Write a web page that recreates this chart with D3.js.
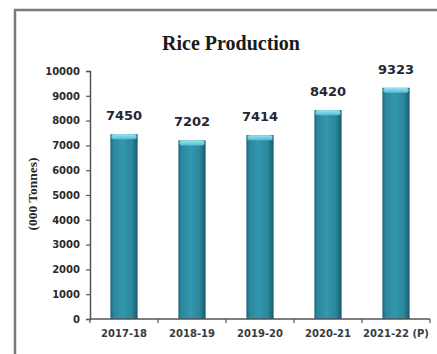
<!DOCTYPE html>
<html>
<head>
<meta charset="utf-8">
<script src="https://cdn.jsdelivr.net/npm/d3@7"></script>
<style>
  body { margin: 0; background: #fff; }
  svg { display: block; }
</style>
</head>
<body>
<div class="canvas"></div>
<script>
// chart data
const years = ['2017-18', '2018-19', '2019-20', '2020-21', '2021-22 (P)'];
const production = [7450, 7202, 7414, 8420, 9323];
const yTicks = [0, 1000, 2000, 3000, 4000, 5000, 6000, 7000, 8000, 9000, 10000];

const width = 437;
const height = 354;
const margin = {top: 71, right: 7, bottom: 35, left: 90};
const graphWidth = width - margin.left - margin.right;
const graphHeight = height - margin.top - margin.bottom;

const svg = d3.select('.canvas')
  .append('svg')
    .attr('width', width)
    .attr('height', height);

// bar gradients (cylinder look)
const defs = svg.append('defs');
const body = defs.append('linearGradient').attr('id', 'barBody')
  .attr('x1', '0%').attr('x2', '100%').attr('y1', '0%').attr('y2', '0%');
[['0%', '#1c6677'], ['12%', '#2b889e'], ['45%', '#3397ad'], ['80%', '#2b869b'], ['100%', '#17586a']]
  .forEach(s => body.append('stop').attr('offset', s[0]).attr('stop-color', s[1]));
const cap = defs.append('linearGradient').attr('id', 'barCap')
  .attr('x1', '0%').attr('x2', '0%').attr('y1', '0%').attr('y2', '100%');
[['0%', '#9ae6f4'], ['100%', '#55bbd2']]
  .forEach(s => cap.append('stop').attr('offset', s[0]).attr('stop-color', s[1]));

// frame (only top and left edges visible in the crop)
svg.append('path')
  .attr('d', `M15,${height} L15,10 L${width},10`)
  .attr('fill', 'none')
  .attr('stroke', '#7a7a7a')
  .attr('stroke-width', 2.5);

// title
svg.append('text')
  .attr('x', 231)
  .attr('y', 50)
  .attr('text-anchor', 'middle')
  .attr('font-family', 'Liberation Serif, serif')
  .attr('font-weight', 'bold')
  .attr('font-size', 20)
  .attr('fill', '#1a1a1a')
  .text('Rice Production');

const graph = svg.append('g')
  .attr('transform', `translate(${margin.left}, ${margin.top})`);

const y = d3.scaleLinear()
  .domain([0, 10000])
  .range([graphHeight, 0]);

const x = d3.scaleBand()
  .domain(years)
  .range([0, graphWidth])
  .paddingInner(0.6)
  .paddingOuter(0.3);

// bars
const bars = graph.selectAll('g.bar')
  .data(years.map((d, i) => ({name: d, value: production[i]})))
  .enter()
  .append('g')
    .attr('class', 'bar');

bars.append('rect')
  .attr('x', d => x(d.name))
  .attr('y', d => y(d.value))
  .attr('width', x.bandwidth())
  .attr('height', d => graphHeight - y(d.value))
  .attr('fill', 'url(#barBody)');

// light top cap
bars.append('rect')
  .attr('x', d => x(d.name) + 1)
  .attr('y', d => y(d.value))
  .attr('width', x.bandwidth() - 2)
  .attr('height', 5)
  .attr('rx', 2.5)
  .attr('fill', 'url(#barCap)');

bars.append('text')
  .attr('x', d => x(d.name) + x.bandwidth() / 2)
  .attr('y', d => y(d.value) - 14)
  .attr('text-anchor', 'middle')
  .attr('font-family', 'DejaVu Sans, sans-serif')
  .attr('font-weight', 'bold')
  .attr('font-size', 13)
  .attr('fill', '#262630')
  .text(d => d.value);

// axes
const yAxis = d3.axisLeft(y)
  .tickValues(yTicks)
  .tickFormat(d3.format('d'))
  .tickSize(4)
  .tickPadding(6);

const yAxisGroup = graph.append('g').call(yAxis);

yAxisGroup.select('.domain').attr('stroke', '#555').attr('stroke-width', 1.5);
yAxisGroup.selectAll('.tick line').attr('stroke', '#555').attr('stroke-width', 1.2);
yAxisGroup.selectAll('.tick text')
  .attr('font-family', 'DejaVu Sans, sans-serif')
  .attr('font-weight', 'bold')
  .attr('font-size', 10)
  .attr('fill', '#2a2a2a');

// x axis: ticks at the band boundaries, labels centred under bars
const xAxisGroup = graph.append('g')
  .attr('transform', `translate(0, ${graphHeight})`);
xAxisGroup.append('line')
  .attr('x1', 0).attr('x2', graphWidth)
  .attr('stroke', '#555').attr('stroke-width', 1.5);
xAxisGroup.selectAll('line.tick')
  .data(d3.range(years.length + 1))
  .enter()
  .append('line')
    .attr('class', 'tick')
    .attr('x1', i => i * x.step())
    .attr('x2', i => i * x.step())
    .attr('y1', 0).attr('y2', 4)
    .attr('stroke', '#555').attr('stroke-width', 1.2);
xAxisGroup.selectAll('text')
  .data(years)
  .enter()
  .append('text')
    .attr('x', d => x(d) + x.bandwidth() / 2)
    .attr('y', 18)
    .attr('text-anchor', 'middle')
    .attr('font-family', 'DejaVu Sans, sans-serif')
    .attr('font-weight', 'bold')
    .attr('font-size', 10)
    .attr('fill', '#3a3a3a')
    .text(d => d);

// y axis title
svg.append('text')
  .attr('transform', 'translate(37, 194) rotate(-90)')
  .attr('text-anchor', 'middle')
  .attr('font-family', 'Liberation Serif, serif')
  .attr('font-weight', 'bold')
  .attr('font-size', 13.5)
  .attr('fill', '#2a2a2a')
  .text('(000 Tonnes)');
</script>
</body>
</html>
